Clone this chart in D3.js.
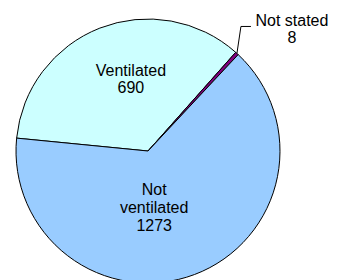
<!DOCTYPE html>
<html>
<head>
<meta charset="utf-8">
<script src="https://cdn.jsdelivr.net/npm/d3@7"></script>
<style>
  html, body { margin: 0; padding: 0; background: #fff; }
  svg { display: block; }
</style>
</head>
<body>
<div id="chart"></div>
<script>
const categories = ['Ventilated', 'Not stated', 'Not ventilated'];
const values = [690, 8, 1273];
const labelLines = [['Ventilated', '690'], ['Not stated', '8'], ['Not', 'ventilated', '1273']];
const colors = ['#ccffff', '#800080', '#99ccff'];

const width = 345, height = 280;
const cx = 148, cy = 151, radius = 132;
const startDeg = -84.4;

const svg = d3.select('#chart').append('svg')
    .attr('width', width)
    .attr('height', height)
    .style('font-family', 'Liberation Sans, Arial, sans-serif')
    .style('font-size', '16px');

const data = categories.map((c, i) => ({ name: c, value: values[i], lines: labelLines[i], color: colors[i] }));

const pie = d3.pie()
    .sort(null)
    .value(d => d.value)
    .startAngle(startDeg * Math.PI / 180)
    .endAngle(startDeg * Math.PI / 180 + 2 * Math.PI);

const arcs = pie(data);
const arc = d3.arc().innerRadius(0).outerRadius(radius);

const g = svg.append('g').attr('transform', `translate(${cx},${cy})`);

g.selectAll('path.slice')
    .data(arcs)
    .enter()
    .append('path')
    .attr('class', 'slice')
    .attr('d', arc)
    .attr('fill', d => d.data.color)
    .attr('stroke', '#000')
    .attr('stroke-width', 1)
    .attr('stroke-linejoin', 'round');

// inside labels: centroid at a given radius plus a nudge
const inside = [
    { idx: 0, r: 88, dx: 15, dy: 9, lh: 17 },
    { idx: 2, r: 60, dx: -15, dy: 0, lh: 18 }
];
inside.forEach(p => {
    const a = arcs[p.idx];
    const c = d3.arc().innerRadius(p.r).outerRadius(p.r).centroid(a);
    const n = a.data.lines.length;
    const t = g.append('text')
        .attr('text-anchor', 'middle')
        .attr('fill', '#000');
    a.data.lines.forEach((line, i) => {
        t.append('tspan')
            .attr('x', c[0] + p.dx)
            .attr('y', c[1] + p.dy + (i - (n - 1) / 2) * p.lh + 6)
            .text(line);
    });
});

// outside label with leader line for the small slice
const small = arcs[1];
const mid = (small.startAngle + small.endAngle) / 2;
const edge = [radius * Math.sin(mid), -radius * Math.cos(mid)];
const elbow = [edge[0] + 4, edge[1] - 27];
const tail = [elbow[0] + 10, elbow[1]];
g.append('path')
    .attr('d', d3.line()([edge, elbow, tail]))
    .attr('fill', 'none')
    .attr('stroke', '#000')
    .attr('stroke-width', 1);

const lt = g.append('text').attr('text-anchor', 'middle').attr('fill', '#000');
small.data.lines.forEach((line, i) => {
    lt.append('tspan')
        .attr('x', tail[0] + 41)
        .attr('y', tail[1] + i * 17)
        .text(line);
});
</script>
</body>
</html>
